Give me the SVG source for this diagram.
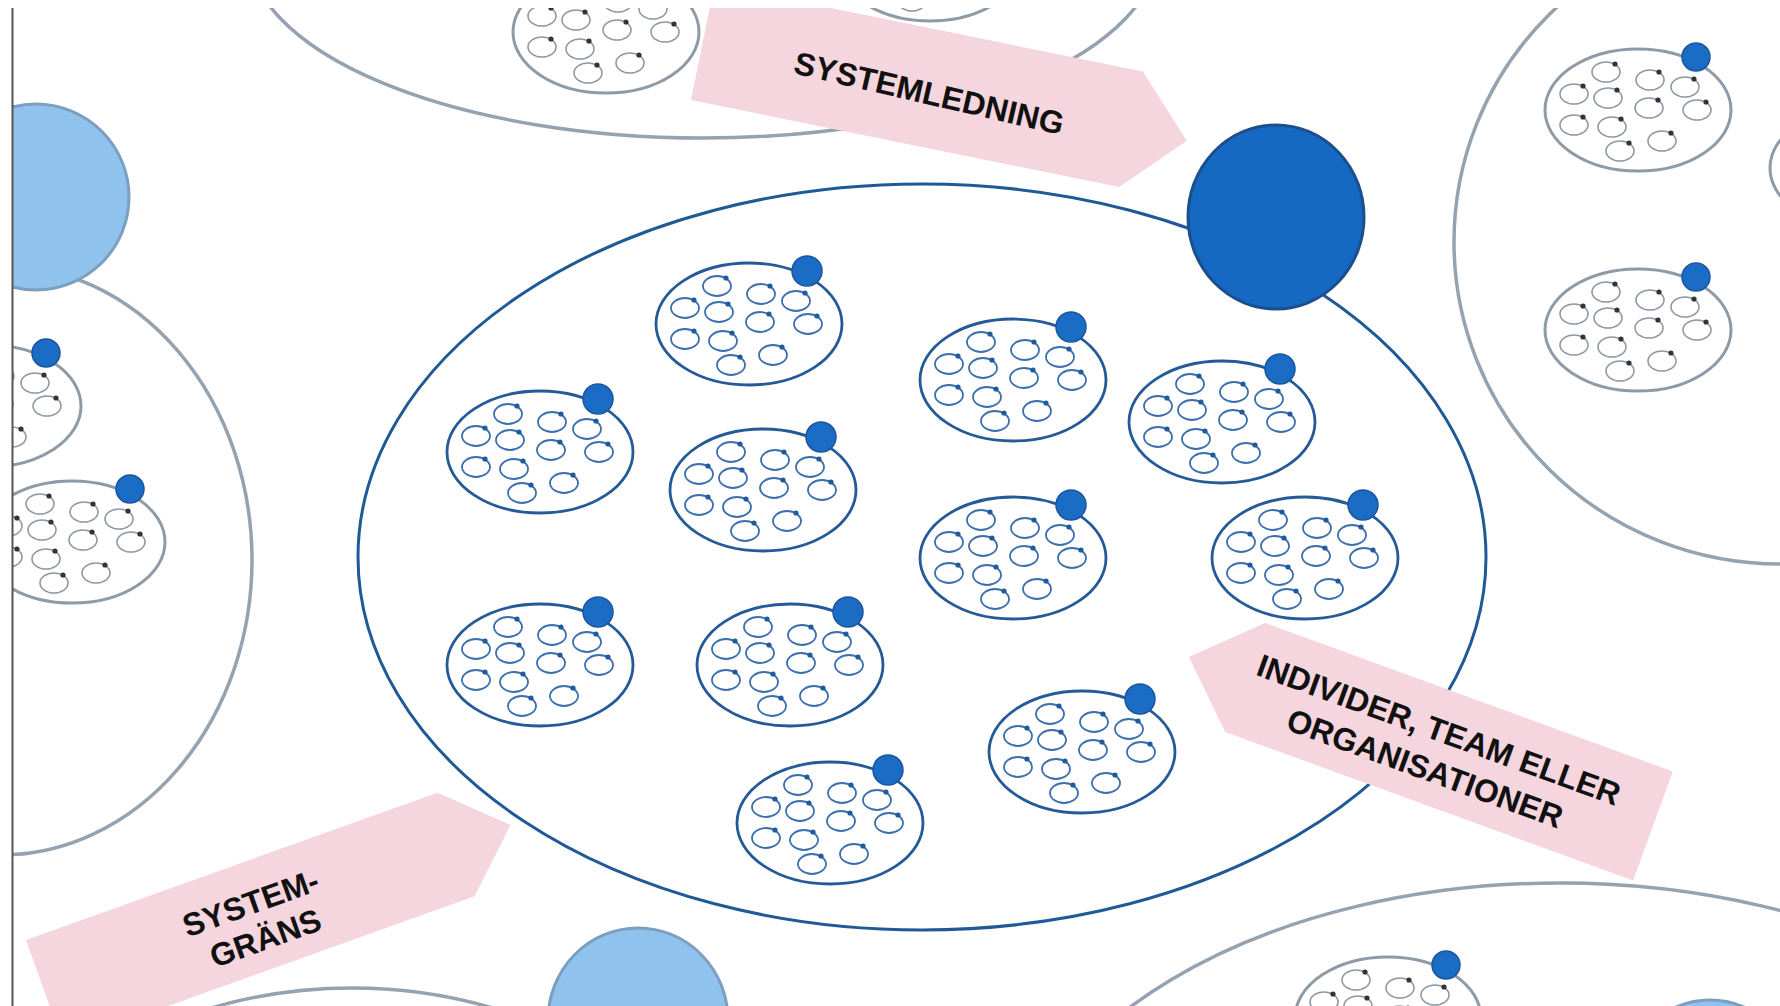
<svg xmlns="http://www.w3.org/2000/svg" xmlns:xlink="http://www.w3.org/1999/xlink" width="1780" height="1006" viewBox="0 0 1780 1006">
<style>
.gbig{fill:none;stroke:#95a3b0;stroke-width:3.5}
.main{fill:none;stroke:#1f5996;stroke-width:3}
.lb{fill:#8fc3ee;stroke:#7b9fc0;stroke-width:3}
.pink{fill:#f5d5de}
.lbl{font-family:"Liberation Sans",Arial,Helvetica,sans-serif;font-weight:bold;font-size:32px;fill:#111;text-anchor:middle}
.cb{fill:#fff;stroke:#245a98;stroke-width:2.8}
.sb{fill:none;stroke:#3b6fae;stroke-width:1.8}
.db{fill:#1f5a9c}
.cg{fill:#fff;stroke:#8e9ba7;stroke-width:3}
.sg{fill:none;stroke:#8f9aa4;stroke-width:1.6}
.dg{fill:#333}
.bdot{fill:#1a6cc4;stroke:#1a56a0;stroke-width:1.5}
</style>
<defs>
<clipPath id="clip"><rect x="13" y="8" width="1767" height="998"/></clipPath>
<g id="smallB">
<ellipse class="sb" cx="0" cy="0" rx="14" ry="10"/><circle class="db" cx="9" cy="-8" r="2.6"/>
</g>
<g id="smallG">
<ellipse class="sg" cx="0" cy="0" rx="14" ry="10"/><circle class="dg" cx="9" cy="-8" r="2.6"/>
</g>
<g id="innerB">
<use href="#smallB" x="-32" y="-38"/><use href="#smallB" x="12" y="-30"/><use href="#smallB" x="-64" y="-16"/>
<use href="#smallB" x="47" y="-23"/><use href="#smallB" x="-30" y="-12"/><use href="#smallB" x="11" y="-2"/>
<use href="#smallB" x="59" y="0"/><use href="#smallB" x="-64" y="15"/><use href="#smallB" x="-26" y="17"/>
<use href="#smallB" x="24" y="31"/><use href="#smallB" x="-18" y="41"/>
</g>
<g id="innerG">
<use href="#smallG" x="-32" y="-38"/><use href="#smallG" x="12" y="-30"/><use href="#smallG" x="-64" y="-16"/>
<use href="#smallG" x="47" y="-23"/><use href="#smallG" x="-30" y="-12"/><use href="#smallG" x="11" y="-2"/>
<use href="#smallG" x="59" y="0"/><use href="#smallG" x="-64" y="15"/><use href="#smallG" x="-26" y="17"/>
<use href="#smallG" x="24" y="31"/><use href="#smallG" x="-18" y="41"/>
</g>
<g id="clusterB">
<ellipse class="cb" cx="0" cy="0" rx="93" ry="61"/>
<use href="#innerB"/>
<circle class="bdot" cx="58" cy="-53" r="15"/>
</g>
<g id="clusterG">
<ellipse class="cg" cx="0" cy="0" rx="93" ry="61"/>
<use href="#innerG"/>
<circle class="bdot" cx="58" cy="-53" r="14"/>
</g>
</defs>
<rect x="0" y="0" width="1780" height="1006" fill="#fff"/>
<g clip-path="url(#clip)">
<g id="neighbours">
<ellipse class="gbig" cx="703" cy="-52" rx="455" ry="190"/>
<ellipse class="gbig" cx="0" cy="560" rx="252" ry="295"/>
<ellipse class="gbig" cx="1780" cy="242" rx="326" ry="322"/>
<ellipse class="gbig" cx="1560" cy="1213" rx="550" ry="330"/>
<ellipse class="gbig" cx="352" cy="1300" rx="400" ry="312"/>
<ellipse id="lb-left" class="lb" cx="36" cy="197" rx="93" ry="93"/>
<ellipse id="lb-bottom" class="lb" cx="638" cy="1020" rx="90" ry="92"/>
<ellipse id="lb-bottom-right" class="lb" cx="1710" cy="1090" rx="88" ry="90"/>
<g id="g-top1"><use href="#clusterG" x="606" y="32"/></g>
<g id="g-top2"><use href="#clusterG" x="930" y="-40"/></g>
<g id="g-right1"><use href="#clusterG" x="1638" y="110"/></g>
<g id="g-right2"><use href="#clusterG" x="1638" y="330"/></g>
<g id="g-right3"><use href="#clusterG" x="1863" y="168"/></g>
<g id="g-left1"><use href="#clusterG" x="-12" y="406"/></g>
<g id="g-left2"><use href="#clusterG" x="72" y="542"/></g>
<g id="g-bottom"><use href="#clusterG" x="1388" y="1018"/></g>
</g>
<g id="system">
<ellipse id="systemgrans" class="main" cx="922" cy="557" rx="564" ry="373"/>
<g id="c-a"><use href="#clusterB" x="749" y="324"/></g>
<g id="c-b"><use href="#clusterB" x="540" y="452"/></g>
<g id="c-c"><use href="#clusterB" x="763" y="490"/></g>
<g id="c-d"><use href="#clusterB" x="1013" y="380"/></g>
<g id="c-e"><use href="#clusterB" x="1222" y="422"/></g>
<g id="c-f"><use href="#clusterB" x="1013" y="558"/></g>
<g id="c-g"><use href="#clusterB" x="1305" y="558"/></g>
<g id="c-h"><use href="#clusterB" x="540" y="665"/></g>
<g id="c-i"><use href="#clusterB" x="790" y="665"/></g>
<g id="c-j"><use href="#clusterB" x="1082" y="752"/></g>
<g id="c-k"><use href="#clusterB" x="830" y="823"/></g>
<g id="systemledning-node"><ellipse cx="1276" cy="217" rx="88" ry="92" fill="#1569c3" stroke="#1a4f8c" stroke-width="3"/></g>
</g>
<g id="connectors"></g>
<g id="label-systemledning" transform="translate(691,100) rotate(11.5)">
<polygon class="pink" points="0,0 437,0 494,-59 437,-118 0,-118"/>
<text class="lbl" x="232" y="-43" transform="rotate(1.5 232 -54)">SYSTEMLEDNING</text>
</g>
<g id="label-individer" transform="translate(1265,623) rotate(20)">
<polygon class="pink" points="0,0 434,0 434,116 0,116 -60,58"/>
<text class="lbl" x="200" y="52">INDIVIDER, TEAM ELLER</text>
<text class="lbl" x="200" y="93">ORGANISATIONER</text>
</g>
<g id="label-systemgrans" transform="translate(26,940) rotate(-19.7)">
<polygon class="pink" points="0,0 437,0 495,55 437,110 0,110"/>
<text class="lbl" x="224" y="52">SYSTEM-</text>
<text class="lbl" x="226" y="90">GRÄNS</text>
</g>
</g>
<line x1="12.5" y1="8" x2="12.5" y2="1006" stroke="#555" stroke-width="2"/>
</svg>
